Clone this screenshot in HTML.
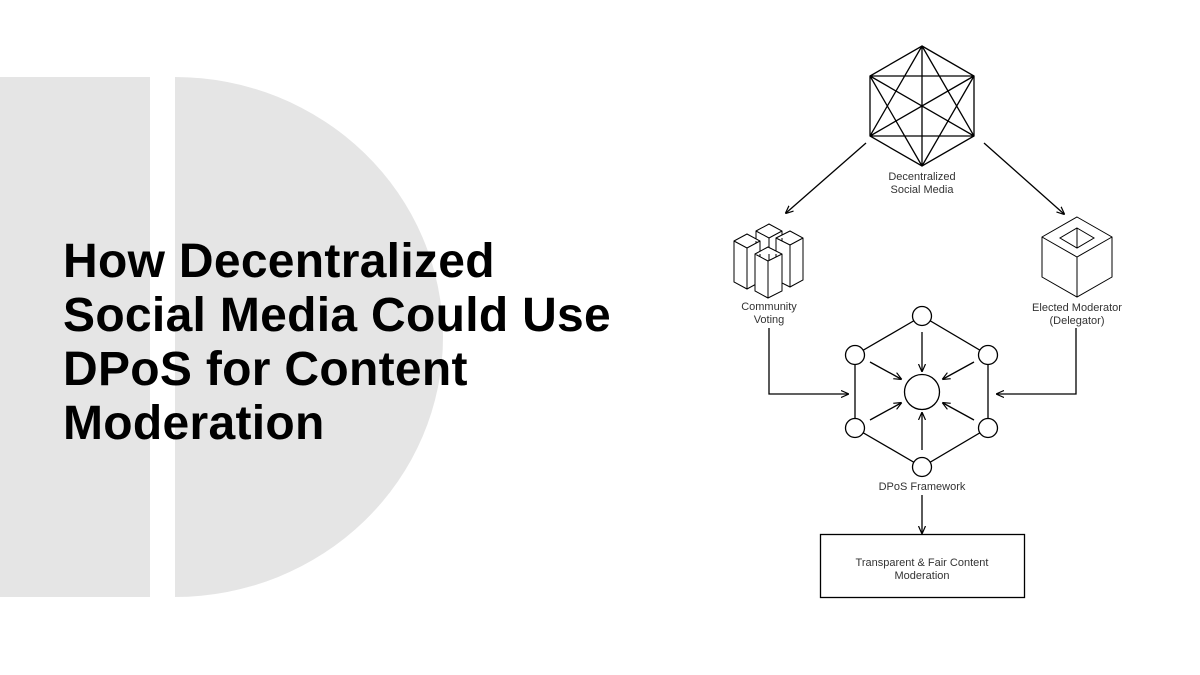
<!DOCTYPE html>
<html><head><meta charset="utf-8"><style>
html,body{margin:0;padding:0;background:#fff;}
body{width:1200px;height:675px;position:relative;overflow:hidden;font-family:"Liberation Sans",Arial,sans-serif;}
.t{position:absolute;left:63px;top:235px;font-size:48px;line-height:54px;font-weight:bold;color:#000;letter-spacing:0.3px;white-space:nowrap;}
</style></head><body>
<svg width="1200" height="675" style="position:absolute;left:0;top:0">
<rect x="0" y="77" width="150" height="520" fill="#e5e5e5"/>
<path d="M175 77 A268 260 0 0 1 175 597 Z" fill="#e5e5e5"/>
<defs><marker id="a" markerWidth="8" markerHeight="8" refX="7" refY="4" orient="auto" markerUnits="userSpaceOnUse"><path d="M0 0.5 L8 4 L0 7.5" fill="none" stroke="#000" stroke-width="1.2"/></marker></defs>
<g stroke="#000" stroke-width="1.3" fill="none">
<path d="M922 46 L974 76 L974 136 L922 166 L870 136 L870 76 Z"/>
<path d="M922 46 L974 136 M922 46 L922 166 M922 46 L870 136 M974 76 L922 166 M974 76 L870 136 M974 76 L870 76 M974 136 L870 136 M974 136 L870 76 M922 166 L870 76"/>
<line x1="866" y1="143" x2="786" y2="213" marker-end="url(#a)"/>
<line x1="984" y1="143" x2="1064" y2="214" marker-end="url(#a)"/>
<g stroke-width="1">
<path d="M756 231 L769 224 L782 231 L782 287 L769 294 L756 287 Z M756 231 L769 238 L782 231 M769 238 L769 294" fill="#fff"/>
<path d="M734 241 L747 234 L760 241 L760 282 L747 289 L734 282 Z M734 241 L747 248 L760 241 M747 248 L747 289" fill="#fff"/>
<path d="M776 238 L790 231 L803 238 L803 280 L790 287 L776 280 Z M776 238 L790 245 L803 238 M790 245 L790 287" fill="#fff"/>
<path d="M755 254 L768 247 L782 254 L782 291 L768 298 L755 291 Z M755 254 L768 261 L782 254 M768 261 L768 298" fill="#fff"/>
</g>
<g stroke-width="1">
<path d="M1077 217 L1112 237 L1112 277 L1077 297 L1042 277 L1042 237 Z"/>
<path d="M1042 237 L1077 257 L1112 237 M1077 257 L1077 297"/>
<path d="M1077 228 L1094 238 L1077 248 L1060 238 Z M1077 228 L1077 248"/>
</g>
<polyline points="769,328 769,394 848,394" marker-end="url(#a)"/>
<polyline points="1076,328 1076,394 997,394" marker-end="url(#a)"/>
<path d="M922 316 L855 355 L855 428 L922 467 L988 428 L988 355 Z"/>
<g fill="#fff">
<circle cx="922" cy="316" r="9.5"/><circle cx="855" cy="355" r="9.5"/><circle cx="988" cy="355" r="9.5"/>
<circle cx="855" cy="428" r="9.5"/><circle cx="988" cy="428" r="9.5"/><circle cx="922" cy="467" r="9.5"/>
<circle cx="922" cy="392" r="17.5"/>
</g>
<line x1="922" y1="332" x2="922" y2="371" marker-end="url(#a)"/>
<line x1="870" y1="362" x2="901" y2="379" marker-end="url(#a)"/>
<line x1="974" y1="362" x2="943" y2="379" marker-end="url(#a)"/>
<line x1="870" y1="420" x2="901" y2="403" marker-end="url(#a)"/>
<line x1="974" y1="420" x2="943" y2="403" marker-end="url(#a)"/>
<line x1="922" y1="450" x2="922" y2="413" marker-end="url(#a)"/>
<line x1="922" y1="495" x2="922" y2="533" marker-end="url(#a)"/>
<rect x="820.5" y="534.5" width="204" height="63"/>
</g>
<g font-family="Liberation Sans, Arial, sans-serif" font-size="11" fill="#333" text-anchor="middle">
<text x="922" y="180">Decentralized</text><text x="922" y="193">Social Media</text>
<text x="769" y="310">Community</text><text x="769" y="323">Voting</text>
<text x="1077" y="311">Elected Moderator</text><text x="1077" y="324">(Delegator)</text>
<text x="922" y="490">DPoS Framework</text>
<text x="922" y="566">Transparent &amp; Fair Content</text><text x="922" y="579">Moderation</text>
</g>
</svg>
<div class="t">How Decentralized<br>Social Media Could Use<br>DPoS for Content<br>Moderation</div>
</body></html>
